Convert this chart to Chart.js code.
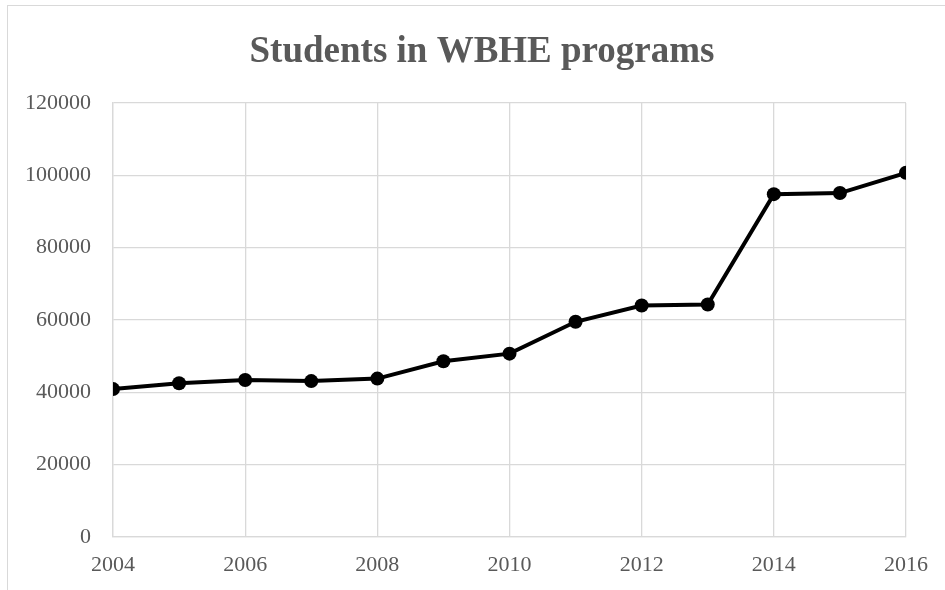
<!DOCTYPE html>
<html>
<head>
<meta charset="utf-8">
<script src="https://cdn.jsdelivr.net/npm/chart.js@4"></script>
<style>
  html, body { margin: 0; padding: 0; background: #fff; }
  #wrap { position: relative; width: 945px; height: 590px; overflow: hidden; }
  #frame { position: absolute; left: 7px; top: 5px; width: 1000px; height: 700px;
           border-top: 1px solid #d9d9d9; border-left: 1px solid #d9d9d9; pointer-events: none; }
  canvas { position: absolute; left: 0; top: 0; }
</style>
</head>
<body>
<div id="wrap">
  <canvas id="myChart" width="945" height="590"></canvas>
  <div id="frame"></div>
</div>
<script>
// anni e numero di studenti
var years = [2004, 2005, 2006, 2007, 2008, 2009, 2010, 2011, 2012, 2013, 2014, 2015, 2016];
var students = [40900, 42500, 43400, 43100, 43800, 48600, 50700, 59500, 64000, 64300, 94800, 95100, 100700];

var yTicks = [0, 20000, 40000, 60000, 80000, 100000, 120000];
var xTicks = [2004, 2006, 2008, 2010, 2012, 2014, 2016];

var titolo = "Students in WBHE programs";

var points = years.map(function (y, i) {
  return { x: y, y: students[i] };
});

var grigio = "#d9d9d9";
var testo = "#595959";
var font = "'Liberation Serif', 'Times New Roman', serif";

// titolo disegnato a mano: in Excel e' centrato sull'area del grafico, non sul plot
var titoloPlugin = {
  id: "titoloPlugin",
  afterDraw: function (chart) {
    var ctx = chart.ctx;
    ctx.save();
    ctx.fillStyle = testo;
    ctx.font = "bold 37px " + font;
    ctx.textAlign = "center";
    ctx.textBaseline = "alphabetic";
    ctx.fillText(titolo, 482, 62);
    ctx.restore();
  },
};

new Chart("myChart", {
  type: "line",
  data: {
    datasets: [
      {
        data: points,
        borderColor: "#000",
        backgroundColor: "#000",
        borderWidth: 4,
        pointRadius: 7,
        pointHoverRadius: 7,
        pointBorderWidth: 0,
        tension: 0,
      },
    ],
  },
  plugins: [titoloPlugin],
  options: {
    responsive: false,
    animation: false,
    layout: { padding: { left: 10, right: 39, top: 103, bottom: 0 } },
    plugins: {
      legend: { display: false },
      tooltip: { enabled: false },
      title: { display: false },
    },
    scales: {
      x: {
        type: "linear",
        min: xTicks[0],
        max: xTicks[xTicks.length - 1],
        afterBuildTicks: function (axis) {
          axis.ticks = xTicks.map(function (v) { return { value: v }; });
        },
        afterFit: function (axis) { axis.height = 53; },
        grid: { color: grigio, lineWidth: 1.3, drawTicks: false },
        border: { color: grigio, width: 1.3 },
        ticks: {
          color: testo,
          padding: 15,
          maxRotation: 0,
          font: { family: font, size: 22 },
          callback: function (v) { return String(v); },
        },
      },
      y: {
        min: yTicks[0],
        max: yTicks[yTicks.length - 1],
        afterBuildTicks: function (axis) {
          axis.ticks = yTicks.map(function (v) { return { value: v }; });
        },
        afterFit: function (axis) { axis.width = 103; },
        grid: { color: grigio, lineWidth: 1.3, drawTicks: false },
        border: { color: grigio, width: 1.3 },
        ticks: {
          color: testo,
          padding: 22,
          font: { family: font, size: 22 },
          callback: function (v) { return String(v); },
        },
      },
    },
  },
});
</script>
</body>
</html>
